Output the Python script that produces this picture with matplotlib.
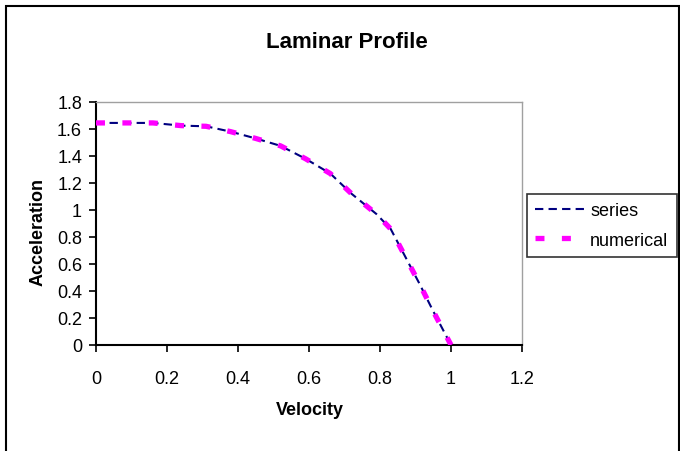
import matplotlib
matplotlib.use("Agg")
import matplotlib.pyplot as plt
from matplotlib.patches import Rectangle

plt.rcParams['font.family'] = ['Liberation Sans', 'DejaVu Sans']

velocity = [0.0, 0.08, 0.16, 0.24, 0.31, 0.38, 0.45, 0.52, 0.59, 0.66, 0.72, 0.79, 0.83, 0.87, 0.91, 0.95, 1.0]
series_acc = [1.645, 1.645, 1.645, 1.625, 1.62, 1.58, 1.53, 1.475, 1.38, 1.27, 1.12, 0.97, 0.86, 0.66, 0.46, 0.25, 0.0]
numerical_acc = [1.645, 1.645, 1.645, 1.625, 1.62, 1.58, 1.53, 1.475, 1.38, 1.27, 1.12, 0.97, 0.86, 0.66, 0.46, 0.25, 0.0]
xticks = [0, 0.2, 0.4, 0.6, 0.8, 1, 1.2]
xticklabels = ['0', '0.2', '0.4', '0.6', '0.8', '1', '1.2']
yticks = [0, 0.2, 0.4, 0.6, 0.8, 1.0, 1.2, 1.4, 1.6, 1.8]
yticklabels = ['0', '0.2', '0.4', '0.6', '0.8', '1', '1.2', '1.4', '1.6', '1.8']

W, H = 680, 452
fig = plt.figure(figsize=(W/100, H/100), dpi=100)
ax = fig.add_axes([96/W, 1-346/H, (522-96)/W, (346-103)/H])

ax.plot(velocity, series_acc, color='#000080', lw=1.5, ls=(0, (4, 2.5)), label='series', zorder=3)
ax.plot(velocity, numerical_acc, color='#ff00ff', lw=3.8, ls=(0, (1.7, 3.3)), label='numerical', zorder=4)

ax.set_xlim(0, 1.2)
ax.set_ylim(0, 1.8)
ax.set_xticks(xticks)
ax.set_xticklabels(xticklabels)
ax.set_yticks(yticks)
ax.set_yticklabels(yticklabels)
ax.tick_params(direction='out', length=5, width=1.2, labelsize=13, color='black')
ax.tick_params(axis='x', pad=13)
ax.tick_params(axis='y', pad=5)
for s in ['left', 'bottom']:
    ax.spines[s].set_color('black')
    ax.spines[s].set_linewidth(1.5)
for s in ['top', 'right']:
    ax.spines[s].set_color('#a0a0a0')
    ax.spines[s].set_linewidth(1)

fig.text(347/W, 1-42/H, 'Laminar Profile', fontsize=16, fontweight='bold', ha='center', va='center')
fig.text(310/W, 1-411/H, 'Velocity', fontsize=13, fontweight='bold', ha='center', va='center')
fig.text(38/W, 1-232/H, 'Acceleration', fontsize=13, fontweight='bold', ha='center', va='center', rotation=90)

leg = ax.legend(loc='upper left', bbox_to_anchor=((527-96)/(522-96), (346-195)/(346-103)),
                frameon=True, fancybox=False, edgecolor='black', fontsize=13,
                handlelength=2.9, handletextpad=0.15, borderpad=0.45, labelspacing=0.7,
                borderaxespad=0)
leg.get_frame().set_linewidth(1.2)

fig.patches.append(Rectangle((6/W, -0.05), (679-6)/W, 1.05 - 7/H, transform=fig.transFigure,
                             fill=False, edgecolor='black', lw=1.5, clip_on=False))

fig.savefig('out.png', dpi=100)
